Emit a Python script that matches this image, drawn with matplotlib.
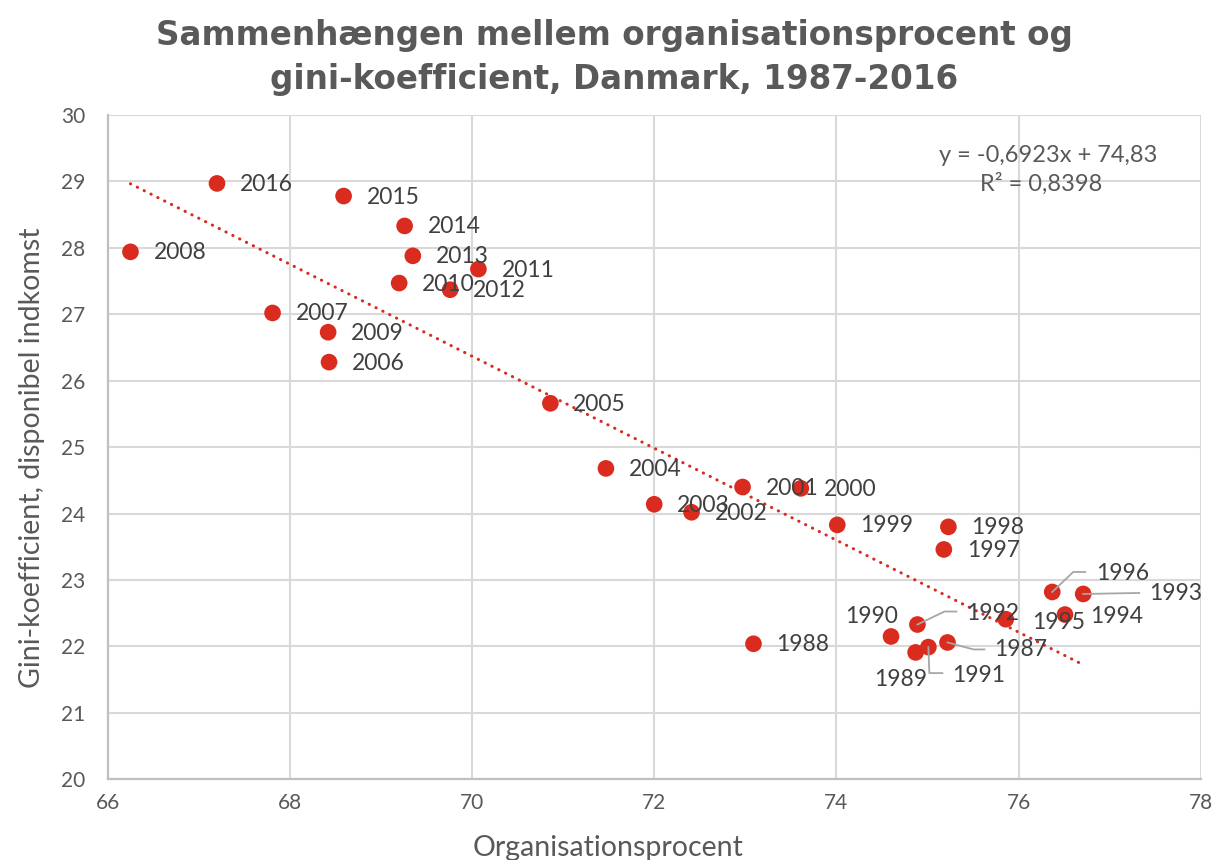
import numpy as np
import matplotlib
matplotlib.use("Agg")
import matplotlib.pyplot as plt
from matplotlib.lines import Line2D
from matplotlib.transforms import IdentityTransform

# ---------------- data ----------------
years = list(range(1987, 2017))
organisationsprocent = [75.22, 73.09, 74.87, 74.60, 75.01, 74.89, 76.71, 76.51, 75.86, 76.37,
                        75.18, 75.23, 74.01, 73.61, 72.97, 72.41, 72.00, 71.47, 70.86, 68.43,
                        67.81, 66.25, 68.42, 69.20, 70.07, 69.76, 69.35, 69.26, 68.59, 67.20]
gini = [22.06, 22.04, 21.91, 22.15, 21.99, 22.33, 22.79, 22.48, 22.41, 22.82,
        23.46, 23.80, 23.83, 24.38, 24.40, 24.02, 24.14, 24.68, 25.66, 26.28,
        27.02, 27.94, 26.73, 27.47, 27.68, 27.37, 27.88, 28.33, 28.78, 28.97]
trend_slope = -0.6923
trend_intercept = 74.83
trend_eq = "y = -0,6923x + 74,83"
trend_r2 = "R² = 0,8398"

title_lines = ["Sammenhængen mellem organisationsprocent og",
               "gini-koefficient, Danmark, 1987-2016"]
xlabel = "Organisationsprocent"
ylabel = "Gini-koefficient, disponibel indkomst"
xticks = [66, 68, 70, 72, 74, 76, 78]
yticks = [20, 21, 22, 23, 24, 25, 26, 27, 28, 29, 30]

# ---------------- style ----------------
W, H, DPI = 1218, 860, 100
RED = "#D92B1E"
TXT = "#404040"
AX_TXT = "#595959"
GRID = "#D9D9D9"
FONT = ["Lato", "DejaVu Sans"]
plt.rcParams["font.family"] = FONT

fig = plt.figure(figsize=(W / DPI, H / DPI), dpi=DPI)
L, R, T, B = 107.7, 1200.7, 115, 779.3
ax = fig.add_axes([L / W, 1 - B / H, (R - L) / W, (B - T) / H])
ax.set_xlim(66, 78)
ax.set_ylim(20, 30)
ax.set_xticks(xticks)
ax.set_yticks(yticks)
ax.tick_params(length=0, labelsize=15, colors=AX_TXT)
ax.tick_params(axis="x", pad=10)
ax.tick_params(axis="y", pad=16)
ax.grid(True, color=GRID, linewidth=1.5, zorder=0)
ax.set_axisbelow(True)
for s in ["top", "right"]:
    ax.spines[s].set_visible(False)
for s in ["left", "bottom"]:
    ax.spines[s].set_color("#BFBFBF")
    ax.spines[s].set_linewidth(1.6)

# trend line
xs = np.array([min(organisationsprocent), max(organisationsprocent)])
ax.plot(xs, trend_slope * xs + trend_intercept, color=RED, linewidth=2.2,
        linestyle=(0, (0.1, 2.4)), dash_capstyle="round", zorder=2)

# points
ax.scatter(organisationsprocent, gini, s=12.0 ** 2, color=RED, edgecolors="none", zorder=3)

# labels: offsets in pixels (dx right, dy down) of text left edge / vertical centre
default_off = (23, 1)
label_off = {
    1996: (44, -18), 1993: (66, 0), 1994: (25, 2), 1995: (26, 3),
    1992: (49, -11), 1990: (-46, -20), 1989: (-41, 27), 1991: (24, 28),
    1987: (47, 7),
}
leaders = {
    1996: [(0, 0), (21, -20), (33, -20)],
    1993: [(0, 0), (56, -1)],
    1992: [(0, 0), (27, -13), (39, -13)],
    1991: [(0, 0), (1, 26), (14, 26)],
    1987: [(0, 0), (26, 7), (37, 7)],
}
pt = 72.0 / DPI
for yr, x, y in zip(years, organisationsprocent, gini):
    dx, dy = label_off.get(yr, default_off)
    ax.annotate(str(yr), xy=(x, y), xytext=(dx * pt, -dy * pt), textcoords="offset points",
                ha="left", va="center", fontsize=16.5, color=TXT, zorder=5)
    if yr in leaders:
        px, py = ax.transData.transform((x, y))
        vx = [px + a for a, b in leaders[yr]]
        vy = [py - b for a, b in leaders[yr]]
        fig.add_artist(Line2D(vx, vy, transform=IdentityTransform(), color="#A6A6A6",
                              linewidth=1.3, zorder=6))

# trend equation
fig.text(1048 / W, 1 - 155 / H, trend_eq, ha="center", va="center",
         fontsize=17, color=AX_TXT)
fig.text(1041 / W, 1 - 184 / H, trend_r2, ha="center", va="center",
         fontsize=17, color=AX_TXT)

# title (two lines, placed separately to match line spacing)
for line, ypx in zip(title_lines, [35, 79]):
    fig.text(614 / W, 1 - ypx / H, line, ha="center", va="center", fontsize=23.5,
             fontweight="bold", color="#595959", family=["DejaVu Sans"])
fig.text(608 / W, 1 - 848 / H, xlabel, ha="center", va="center", fontsize=20.5,
         color=AX_TXT)
fig.text(32 / W, 1 - 458 / H, ylabel, ha="center", va="center", rotation=90, fontsize=20.5,
         color=AX_TXT)

fig.savefig("out.png", dpi=DPI, facecolor="white")
